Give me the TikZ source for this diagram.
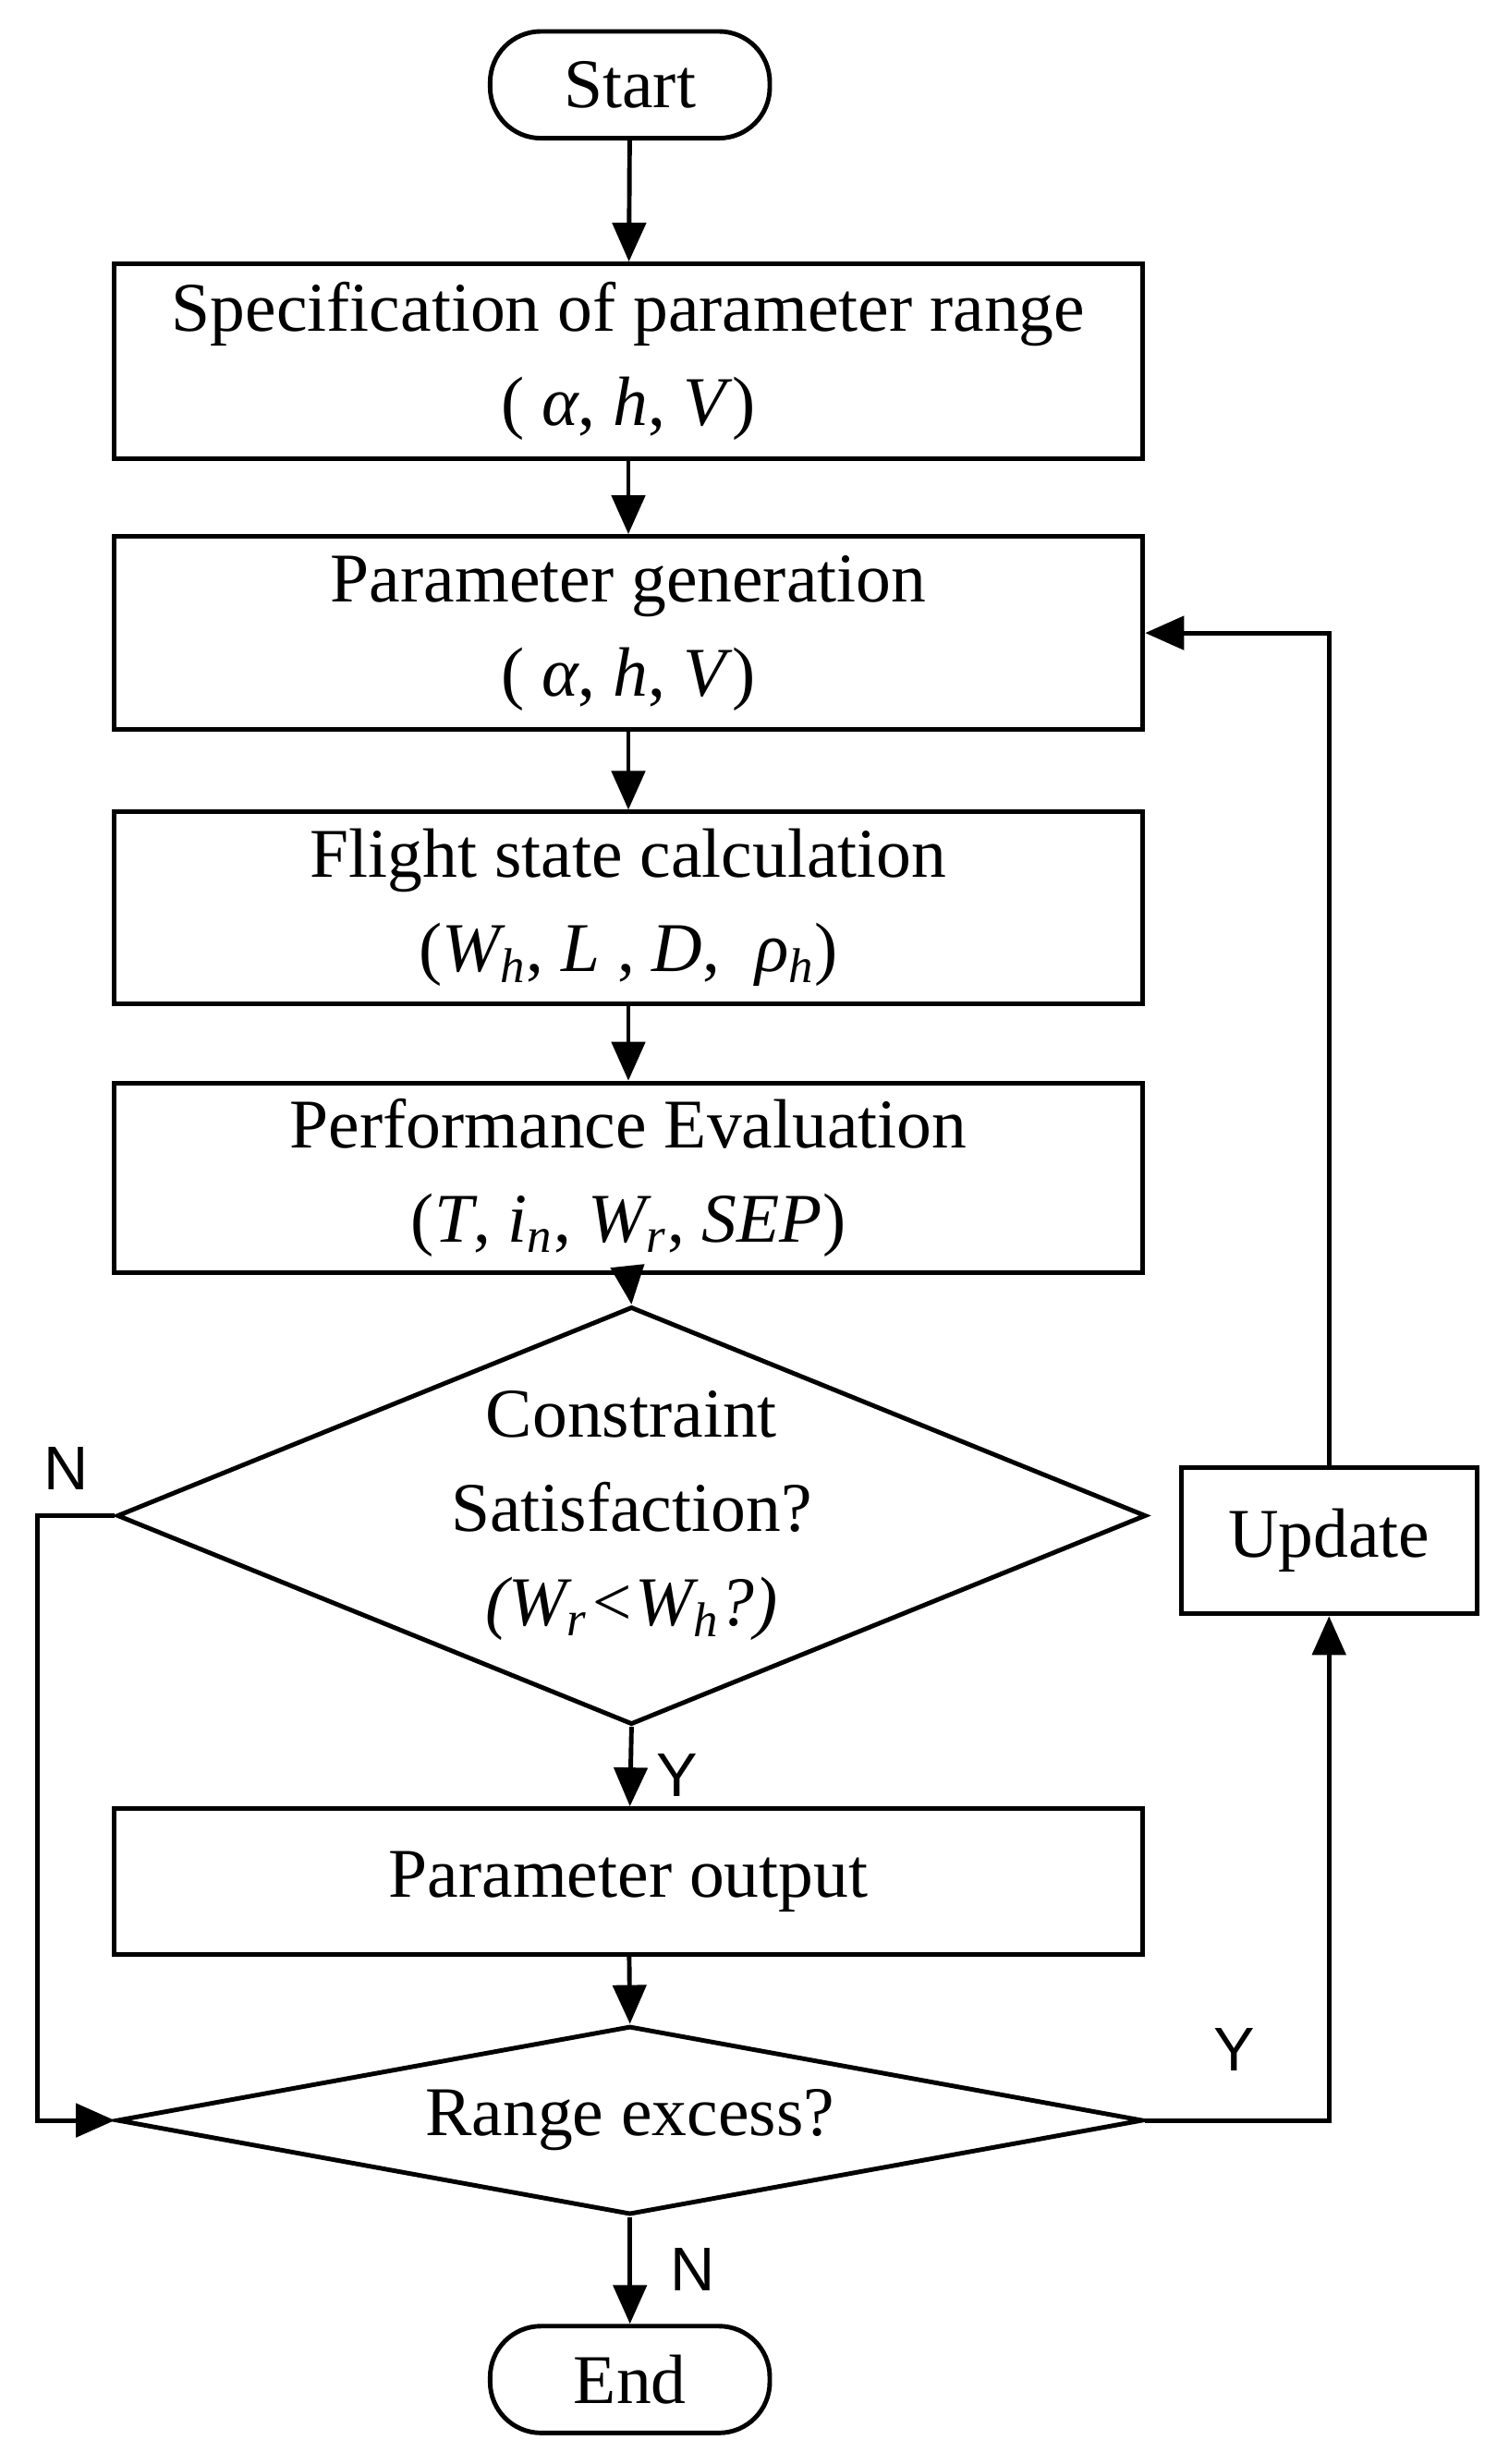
\documentclass[tikz,border=0pt]{standalone}
\usepackage{fontspec}
\setmainfont{Liberation Serif}
\newfontfamily\labfont{Liberation Sans}
\usetikzlibrary{shapes.geometric,arrows.meta,positioning}

\begin{document}
\begin{tikzpicture}[x=0.017cm,y=-0.017cm,line width=1.4pt,
    every node/.style={font=\fontsize{21.5}{29}\selectfont},
    blk/.style={draw, rectangle, minimum width=655*0.017cm, inner sep=0pt, align=center},
    term/.style={draw, rounded corners=0.55cm, minimum width=178*0.017cm, minimum height=68*0.017cm, inner sep=0pt},
    dec/.style={draw, diamond, inner sep=0pt, minimum width=655*0.017cm},
    yn/.style={font=\labfont\fontsize{19}{22}\selectfont},
    arr/.style={-{Triangle[length=0.42cm,width=0.36cm]}}]

    \useasboundingbox (0,0) rectangle (960,1568.8);

    \node(start)[term] at (401,54){Start};
    \node(spec)[blk, minimum height=124*0.017cm] at (400,230){Specification of parameter range\\( \textit{α}, \textit{h}, \textit{V})};
    \node(gen)[blk, minimum height=123*0.017cm] at (400,403){Parameter generation\\( \textit{α}, \textit{h}, \textit{V})};
    \node(flight)[blk, minimum height=122*0.017cm] at (400,578){Flight state calculation\\(\textit{W\textsubscript{h}}, \textit{L} , \textit{D}, \ \textit{ρ\textsubscript{h}})};
    \node(perf)[blk, minimum height=121*0.017cm] at (400,750){Performance Evaluation\\(\textit{T}, \textit{i\textsubscript{n}}, \textit{W\textsubscript{r}}, \textit{SEP})};
    \node(cons)[dec, minimum height=266*0.017cm] at (402,965){};
    \node(constxt)[align=center] at (402,965){Constraint\\Satisfaction?\\\textit{(W\textsubscript{r}<W\textsubscript{h}?)}};
    \node(upd)[draw, minimum width=188*0.017cm, minimum height=93*0.017cm] at (846,981){Update};
    \node(out)[blk, minimum height=93*0.017cm] at (400,1198){Parameter output};
    \node(range)[dec, minimum width=653*0.017cm, minimum height=120*0.017cm] at (401,1350){};
    \node(rangetxt) at (401,1350){Range excess?};
    \node(end)[term] at (401,1515){End};

    \coordinate(nl) at (24,965);
    \coordinate(nb) at (24,1350);
    \coordinate(yr) at (846,1350);
    \coordinate(ut) at (846,403);

    \draw[arr] (start) -- (spec);
    \draw[arr] (spec) -- (gen);
    \draw[arr] (gen) -- (flight);
    \draw[arr] (flight) -- (perf);
    \draw[arr] (perf.south) -- (cons.north);
    \draw[arr] (cons.south) -- (out);
    \draw[arr] (out) -- (range.north);
    \draw[arr] (range.south) -- (end);
    \draw[arr] (cons.west) -- (nl) -- (nb) -- (range.west);
    \draw[arr] (range.east) -- (yr) -- (upd.south);
    \draw[arr] (upd.north) -- (ut) -- (gen.east);

    \node(n1)[yn] at (42,935){N};
    \node(y1)[yn] at (431,1130){Y};
    \node(y2)[yn] at (786,1305){Y};
    \node(n2)[yn] at (441,1445){N};
\end{tikzpicture}
\end{document}
